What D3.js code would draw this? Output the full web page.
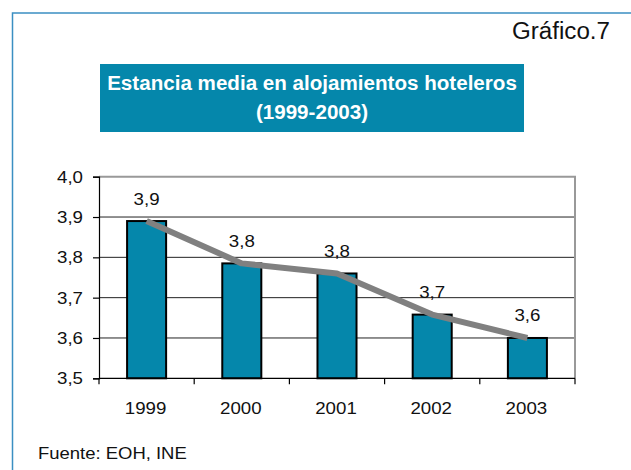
<!DOCTYPE html>
<html>
<head>
  <meta charset="utf-8">
  <title>grafico 7</title>
  <script src="https://cdn.jsdelivr.net/npm/d3@7"></script>
  <style>
    body { margin: 0; background: #fff; }
    text { font-family: "Liberation Sans", Arial, sans-serif; fill: #111; }
  </style>
</head>
<body>
<script>
// data
const years = ["1999", "2000", "2001", "2002", "2003"];
const estancia = [3.89, 3.785, 3.76, 3.658, 3.6];
const valueLabels = ["3,9", "3,8", "3,8", "3,7", "3,6"];
const yTicks = [3.5, 3.6, 3.7, 3.8, 3.9, 4.0];

const W = 631, H = 470;
const plot = { left: 99, right: 575, top: 176.7, bottom: 378.3 };
const sx = 1.1; // text looks a little wide in the source

const svg = d3.select("body").append("svg")
  .attr("width", W).attr("height", H);

// outer frame (only top and left show)
svg.append("path")
  .attr("d", "M12.5," + H + "V13H" + W)
  .attr("fill", "none").attr("stroke", "#3b8fc2").attr("stroke-width", 1.5);

svg.append("text")
  .attr("transform", "translate(610,38.5) scale(1.05,1)")
  .attr("text-anchor", "end")
  .style("font-size", "23px")
  .text("Gráfico.7");

// title box
svg.append("rect")
  .attr("x", 100).attr("y", 64).attr("width", 424).attr("height", 68)
  .attr("fill", "#0587ab");
const titleLines = ["Estancia media en alojamientos hoteleros", "(1999-2003)"];
svg.selectAll(".title").data(titleLines).enter().append("text")
  .attr("class", "title")
  .attr("transform", (d, i) => "translate(312," + (90 + i * 29) + ") scale(1.03,1)")
  .attr("text-anchor", "middle")
  .style("font-size", "20px").style("font-weight", "bold")
  .style("fill", "#fff")
  .text(d => d);

const x = d3.scaleBand()
  .domain(years)
  .range([plot.left, plot.right])
  .paddingInner(0.59)
  .paddingOuter(0.295);

const y = d3.scaleLinear()
  .domain([3.5, 4.0])
  .range([plot.bottom, plot.top]);

// gridlines
svg.selectAll(".grid").data(yTicks.slice(1, -1)).enter().append("line")
  .attr("x1", plot.left).attr("x2", plot.right)
  .attr("y1", d => y(d)).attr("y2", d => y(d))
  .attr("stroke", "#222").attr("stroke-width", 1);

// top and right border in grey
svg.append("path")
  .attr("d", "M" + plot.left + "," + y(4.0) + "H" + plot.right + "V" + plot.bottom)
  .attr("fill", "none").attr("stroke", "#999").attr("stroke-width", 2);

// y axis
const yAxis = d3.axisLeft(y).tickValues(yTicks).tickSize(6).tickFormat("");
svg.append("g")
  .attr("transform", "translate(" + plot.left + ",0)")
  .call(yAxis)
  .call(g => g.selectAll("line, path").attr("stroke", "#000").attr("stroke-width", 1.2));

svg.selectAll(".ylab").data(yTicks).enter().append("text")
  .attr("transform", d => "translate(83," + (y(d) + 6) + ") scale(" + sx + ",1)")
  .attr("text-anchor", "end")
  .style("font-size", "17px")
  .text(d => d3.format(".1f")(d).replace(".", ","));

// bars
svg.selectAll(".bar").data(estancia).enter().append("rect")
  .attr("x", (d, i) => x(years[i]))
  .attr("y", d => y(d))
  .attr("width", x.bandwidth())
  .attr("height", d => y(3.5) - y(d))
  .attr("fill", "#0587ab")
  .attr("stroke", "#000").attr("stroke-width", 2);

// x axis: ticks between categories
const step = x.step();
const bounds = years.map(d => x(d) - (step - x.bandwidth()) / 2);
bounds.push(plot.right);
svg.append("line")
  .attr("x1", plot.left).attr("x2", plot.right)
  .attr("y1", plot.bottom).attr("y2", plot.bottom)
  .attr("stroke", "#000").attr("stroke-width", 1.2);
svg.selectAll(".xtick").data(bounds).enter().append("line")
  .attr("x1", d => d).attr("x2", d => d)
  .attr("y1", plot.bottom).attr("y2", plot.bottom + 6)
  .attr("stroke", "#000").attr("stroke-width", 1.2);

svg.selectAll(".xlab").data(years).enter().append("text")
  .attr("transform", d => "translate(" + (x(d) + x.bandwidth() / 2 - 1) + ",413.5) scale(" + sx + ",1)")
  .attr("text-anchor", "middle")
  .style("font-size", "17px")
  .text(d => d);

// trend line
const line = d3.line()
  .x((d, i) => x(years[i]) + x.bandwidth() / 2)
  .y(d => y(d));
svg.append("path")
  .datum(estancia)
  .attr("d", line)
  .attr("fill", "none")
  .attr("stroke", "#808080")
  .attr("stroke-width", 6)
  .attr("stroke-linejoin", "round");

// value labels
svg.selectAll(".vlab").data(estancia).enter().append("text")
  .attr("transform", (d, i) => "translate(" + (x(years[i]) + x.bandwidth() / 2) + "," + (y(d) - 16.5) + ") scale(" + sx + ",1)")
  .attr("text-anchor", "middle")
  .style("font-size", "17px")
  .text((d, i) => valueLabels[i]);

svg.append("text")
  .attr("transform", "translate(38,459) scale(1.1,1)")
  .style("font-size", "16.8px")
  .text("Fuente: EOH, INE");
</script>
</body>
</html>
